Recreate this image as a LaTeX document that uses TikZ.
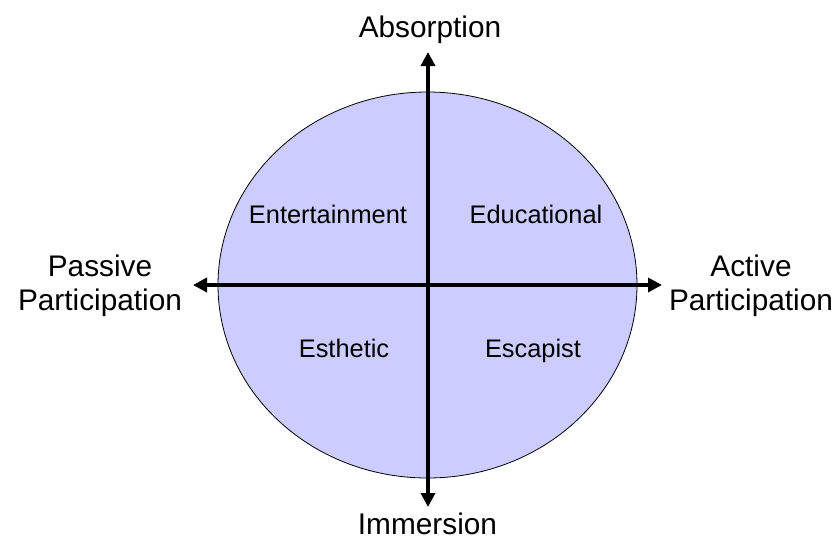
\documentclass[tikz,border=0pt]{standalone}
\usepackage{fontspec}
\setmainfont{Liberation Sans}
\usepackage{xcolor}
\usepackage{tikz}
\usetikzlibrary{arrows.meta}

\definecolor{quadfill}{HTML}{CCCCFF}

\begin{document}
\begin{tikzpicture}[x=1pt, y=-1pt,
  axislabel/.style={font=\fontsize{29.8}{34}\selectfont, align=center},
  quadlabel/.style={font=\fontsize{25.4}{30}\selectfont, anchor=base},
  axisline/.style={{Triangle[length=14pt,width=14pt]}-{Triangle[length=14pt,width=14pt]}, line width=4pt}]

\useasboundingbox (0,0) rectangle (838,542);

\draw[fill=quadfill, line width=0.8pt] (427.5,285) ellipse [x radius=209.5pt, y radius=193pt];

\node[axislabel, anchor=base, inner sep=0pt] (absorp) at (430,37) {Absorption};
\node[axislabel, anchor=base, inner sep=0pt] (immers) at (427.5,534) {Immersion};
\node[axislabel] (passive) at (100,286) {Passive\\Participation};
\node[axislabel] (active) at (751,286) {Active\\Participation};

\node[quadlabel] (entert) at (328,223) {Entertainment};
\node[quadlabel] (educ) at (536,223) {Educational};
\node[quadlabel] (esth) at (344,357) {Esthetic};
\node[quadlabel] (escap) at (533,357) {Escapist};

\coordinate (top) at (428,52);
\coordinate (bottom) at (428,507);
\coordinate (left) at (193,285);
\coordinate (right) at (662,285);

\draw[axisline] (bottom) -- (top);
\draw[axisline] (left) -- (right);

\end{tikzpicture}
\end{document}
